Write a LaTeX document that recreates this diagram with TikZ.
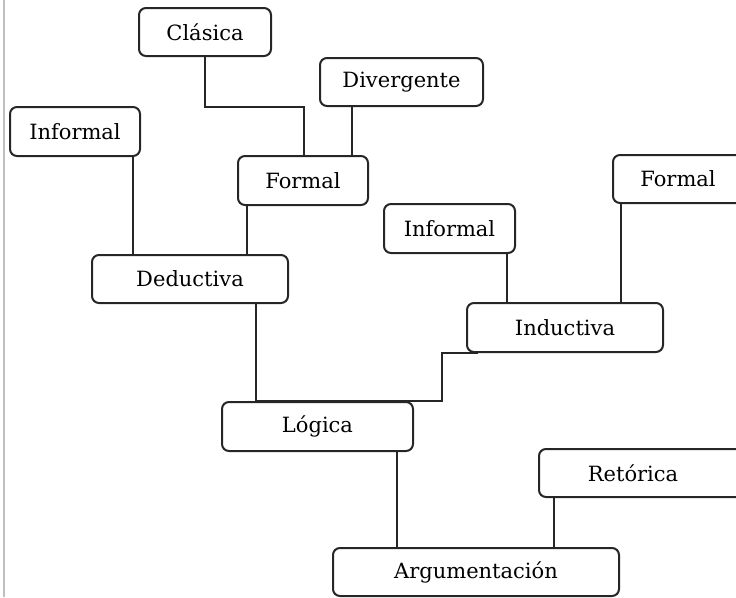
\documentclass[tikz,border=0pt]{standalone}
\usepackage{fontspec}
\setmainfont{DejaVu Serif}
\begin{document}
\begin{tikzpicture}[x=1pt,y=-1pt,
  box/.style={draw=black!85, line width=2pt, rounded corners=7pt, inner sep=0pt,
    font=\fontsize{21}{24}\selectfont, text=black},
  conn/.style={draw=black!85, line width=2pt}]
\useasboundingbox (0,0) rectangle (736,597);
\clip (0,0) rectangle (736,597);
\draw[black!25, line width=1.2pt] (4,0) -- (4,597);
\node[box, minimum width=132pt, minimum height=48pt] (Clasica) at (205,32) {Clásica};
\node[box, minimum width=163pt, minimum height=48pt] (Divergente) at (401.5,82) {Divergente};
\node[box, minimum width=130pt, minimum height=49pt] (InfL) at (75,131.5) {Informal};
\node[box, minimum width=130pt, minimum height=49pt] (FormalL) at (303,180.5) {Formal};
\node[box, minimum width=196pt, minimum height=48pt] (Deductiva) at (190,279) {Deductiva};
\node[box, minimum width=131pt, minimum height=49pt] (InfR) at (449.5,228.5) {Informal};
\node[box, minimum width=147pt, minimum height=48pt] (FormalR) at (686.5,179) {Formal\hspace*{17pt}};
\node[box, minimum width=196pt, minimum height=49pt] (Inductiva) at (565,327.5) {Inductiva};
\node[box, minimum width=191pt, minimum height=49pt] (Logica) at (317.5,426.5) {Lógica};
\node[box, minimum width=221pt, minimum height=48pt] (Retorica) at (649.5,473) {Retórica\hspace*{33pt}};
\node[box, minimum width=286pt, minimum height=48pt] (Argum) at (476,572) {Argumentación};
% connectors
\draw[conn] (Clasica.south) -- (Clasica.south |- Divergente.south) -| ([xshift=1pt]FormalL.north);
\draw[conn] ([xshift=-49.5pt]Divergente.south) -- ([xshift=-49.5pt]Divergente.south |- FormalL.north);
\draw[conn] ([xshift=58pt]InfL.south) -- ([xshift=58pt]InfL.south |- Deductiva.north);
\draw[conn] ([xshift=-56pt]FormalL.south) -- ([xshift=-56pt]FormalL.south |- Deductiva.north);
\draw[conn] ([xshift=66pt]Deductiva.south) -- ([xshift=66pt]Deductiva.south |- Logica.north);
\draw[conn] ([xshift=12pt]Inductiva.south west) -- ++(-36pt,0) |- ([xshift=-61.5pt]Logica.north);
\draw[conn] ([xshift=57.5pt]InfR.south) -- ([xshift=57.5pt]InfR.south |- Inductiva.north);
\draw[conn] ([xshift=9pt]FormalR.south west) -- ([xshift=9pt]FormalR.south west |- Inductiva.north);
\draw[conn] ([xshift=79.5pt]Logica.south) -- ([xshift=79.5pt]Logica.south |- Argum.north);
\draw[conn] ([xshift=16pt]Retorica.south west) -- ([xshift=16pt]Retorica.south west |- Argum.north);
\end{tikzpicture}
\end{document}
